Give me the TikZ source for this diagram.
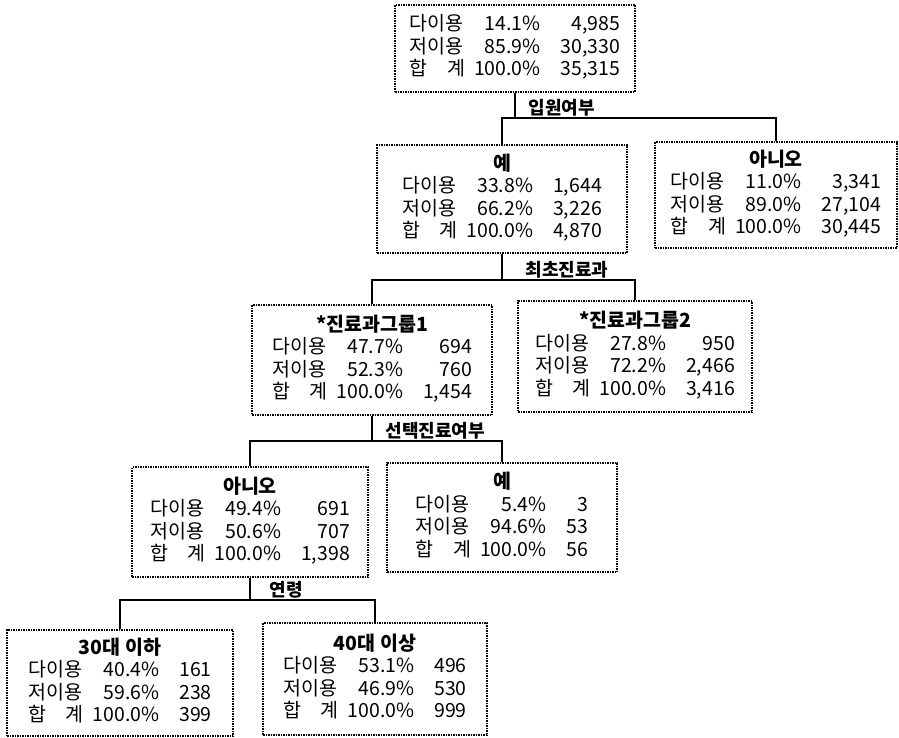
\documentclass[tikz,border=0pt]{standalone}
\usepackage{fontspec}
\setmainfont{Noto Sans CJK KR}
\usepackage{tikz}

\newcommand{\tabrows}[6]{다이용 & #1 & #2\\ 저이용 & #3 & #4\\ 합\hspace{1em}계 & #5 & #6}
\newcommand{\statbox}[7]{\begin{tabular}{@{}l@{\hspace{9pt}}r@{\hspace{20pt}}r@{}}
  \multicolumn{3}{c}{\bfseries #1}\\ \tabrows{#2}{#3}{#4}{#5}{#6}{#7}\end{tabular}}

\tikzset{
  box/.style={draw, line width=1.2pt, dash pattern=on 1.5pt off 1pt, inner sep=0pt,
    font=\fontsize{19.5}{21.5}\selectfont},
  conn/.style={line width=2.4pt},
  splitlabel/.style={anchor=south west, inner sep=1.5pt, font=\fontsize{18}{20}\selectfont\bfseries}
}

\begin{document}
\begin{tikzpicture}[x=1pt,y=-1pt]
            \useasboundingbox (0,0) rectangle (899,738);
            % 전체
            \node[box, minimum width=240, minimum height=87] (root) at (515,48.5)
              {\begin{tabular}{@{}l@{\hspace{9pt}}r@{\hspace{20pt}}r@{}}\tabrows{14.1\%}{4,985}{85.9\%}{30,330}{100.0\%}{35,315}\end{tabular}};

            % 입원여부
            \node[box, minimum width=250, minimum height=108] (yes1) at (502,199)
              {\statbox{예}{33.8\%}{1,644}{66.2\%}{3,226}{100.0\%}{4,870}};
            \node[box, minimum width=242, minimum height=106] (no1) at (776,195)
              {\statbox{아니오}{11.0\%}{3,341}{89.0\%}{27,104}{100.0\%}{30,445}};
            \coordinate (j1) at (515,118);
            \draw[conn] (root.south) -- (j1);
            \draw[conn] (yes1.north) |- (j1) -| (no1.north);
            \node[splitlabel] (c1) at ([xshift=12pt]j1) {입원여부};

            % 최초진료과
            \node[box, minimum width=240, minimum height=110] (grp1) at (372,360)
              {\statbox{*진료과그룹1}{47.7\%}{694}{52.3\%}{760}{100.0\%}{1,454}};
            \node[box, minimum width=234, minimum height=111] (grp2) at (635,356.5)
              {\statbox{*진료과그룹2}{27.8\%}{950}{72.2\%}{2,466}{100.0\%}{3,416}};
            \coordinate (j2) at (502,280);
            \draw[conn] (yes1.south) -- (j2);
            \draw[conn] (grp1.north) |- (j2) -| (grp2.north);
            \node[splitlabel] (c2) at ([xshift=22pt]j2) {최초진료과};

            % 선택진료여부
            \node[box, minimum width=236, minimum height=110] (no2) at (250,522)
              {\statbox{아니오}{49.4\%}{691}{50.6\%}{707}{100.0\%}{1,398}};
            \node[box, minimum width=230, minimum height=109] (yes2) at (502,517.5)
              {\statbox{예}{5.4\%}{3}{94.6\%}{53}{100.0\%}{56}};
            \coordinate (j3) at (372,441);
            \draw[conn] (grp1.south) -- (j3);
            \draw[conn] (no2.north) |- (j3) -| (yes2.north);
            \node[splitlabel] (c3) at ([xshift=12pt]j3) {선택진료여부};

            % 연령
            \node[box, minimum width=226, minimum height=106] (age1) at (120,683)
              {\statbox{30대 이하}{40.4\%}{161}{59.6\%}{238}{100.0\%}{399}};
            \node[box, minimum width=224, minimum height=112] (age2) at (375,679)
              {\statbox{40대 이상}{53.1\%}{496}{46.9\%}{530}{100.0\%}{999}};
            \coordinate (j4) at (250,600);
            \draw[conn] (no2.south) -- (j4);
            \draw[conn] (age1.north) |- (j4) -| (age2.north);
            \node[splitlabel] (c4) at ([xshift=18pt]j4) {연령};
        \end{tikzpicture}
\end{document}
